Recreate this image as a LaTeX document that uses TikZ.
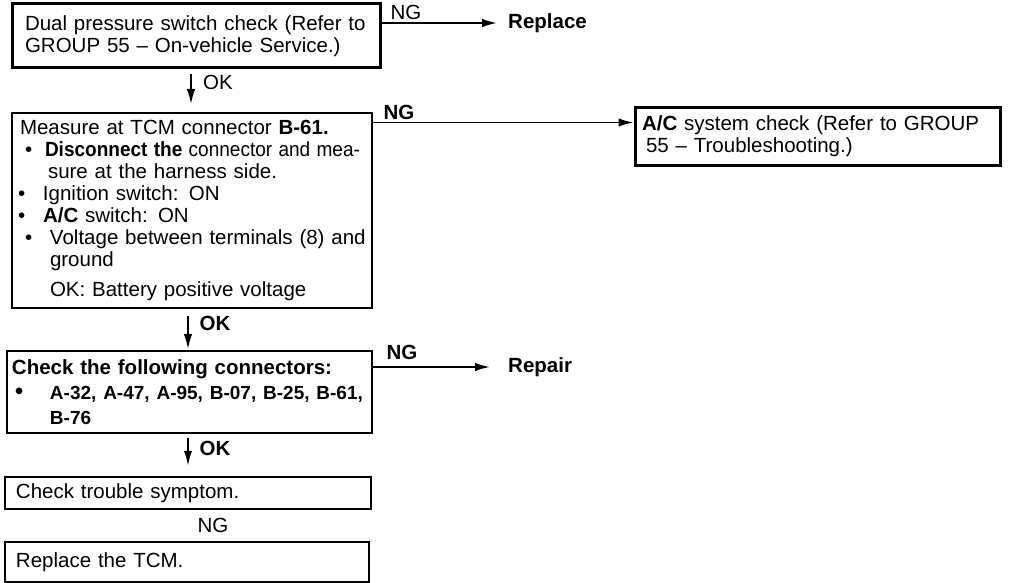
\documentclass[tikz,border=0pt]{standalone}
\usepackage{fontspec}
\setmainfont{Liberation Sans}
\usetikzlibrary{arrows.meta}

\begin{document}
\begin{tikzpicture}[x=1pt, y=-1pt,
            checkbox/.style={draw, line width=2pt, align=left, inner ysep=0pt, font=\fontsize{20.5}{22}\selectfont},
            flagnode/.style={inner sep=0pt, font=\fontsize{20.5}{22}\selectfont},
            resultnode/.style={inner sep=0pt, anchor=west, font=\fontsize{20.5}{22}\selectfont\bfseries},
            flowarrow/.style={line width=1.8pt, -{Latex[length=15pt, width=8.5pt]}}
        ]
            \useasboundingbox (0,0) rectangle (1009,583);

            % check boxes
            \node[checkbox, line width=3pt, minimum width=368pt, minimum height=64pt, text width=342pt, inner xsep=13pt] (dual) at (196,36)
                {\makebox[337pt][s]{Dual pressure switch check (Refer to}\\
                 \makebox[333pt][s]{GROUP 55 – On-vehicle Service.)}};
            \node[checkbox, minimum width=360pt, minimum height=195pt, text width=344pt, inner xsep=8pt] (measure) at (192,210.5)
                {\makebox[315pt][s]{Measure at TCM connector \textbf{B-61.}}\\
                 \hspace*{5pt}\makebox[20pt][l]{\textbullet}\resizebox{315pt}{\height}{\textbf{Disconnect the} connector and mea-}\\
                 \hspace*{28pt}sure at the harness side.\\
                 \makebox[23pt][l]{\hspace*{-2pt}\textbullet}Ignition switch: ON\\
                 \makebox[23pt][l]{\hspace*{-2pt}\textbullet}\textbf{A/C} switch: ON\\
                 \hspace*{5pt}\makebox[25pt][l]{\textbullet}\makebox[310pt][s]{Voltage between terminals (8) and}\\
                 \hspace*{30pt}ground\\[8pt]
                 \hspace*{30pt}\makebox[265pt][s]{OK: Battery positive voltage}};
            \node[checkbox, line width=3pt, minimum width=365pt, minimum height=57pt, text width=351pt, inner xsep=7pt] (acsys) at (817.5,136.5)
                {\makebox[346pt][s]{\textbf{A/C} system check (Refer to GROUP}\\
                 \hspace*{4pt}55 – Troubleshooting.)};
            \node[checkbox, minimum width=365pt, minimum height=82pt, text width=355pt, inner xsep=5pt, font=\fontsize{20.5}{25}\selectfont] (conn) at (189.5,392)
                {\textbf{Check the following connectors:}\\
                 \makebox[38pt][l]{\hspace*{3pt}\scalebox{1.2}{\textbullet}}\makebox[310pt][s]{\bfseries\fontsize{19}{25}\selectfont A-32, A-47, A-95, B-07, B-25, B-61,}\\
                 \hspace*{38pt}{\bfseries\fontsize{19}{25}\selectfont B-76}};
            \node[checkbox, line width=2.5pt, minimum width=366pt, minimum height=32pt, text width=344pt, inner xsep=11pt] (symptom) at (188,493)
                {Check trouble symptom.};
            \node[checkbox, minimum width=364pt, minimum height=40pt, text width=342pt, inner xsep=11pt] (tcm) at (187,562)
                {Replace the TCM.};

            % results
            \node[resultnode] (replace) at (508,23) {Replace};
            \node[resultnode] (repair) at (508,367) {Repair};

            % OK / NG flags
            \node[flagnode] (ng1) at (406,12) {NG};
            \node[flagnode] (ok1) at (218,82) {OK};
            \node[flagnode, font=\fontsize{20.5}{22}\selectfont\bfseries] (ng2) at (399,112) {NG};
            \node[flagnode, font=\fontsize{20.5}{22}\selectfont\bfseries] (ok2) at (215,323) {OK};
            \node[flagnode, font=\fontsize{20.5}{22}\selectfont\bfseries] (ng3) at (402,352) {NG};
            \node[flagnode, font=\fontsize{20.5}{22}\selectfont\bfseries] (ok3) at (215,448) {OK};
            \node[flagnode] (ng4) at (213,525) {NG};

            % arrows
            \draw[flowarrow, shorten >=11pt] (dual.east |- replace.west) -- (replace.west);
            \coordinate (acin) at ([yshift=-16pt]acsys.north west);
            \draw[flowarrow] (measure.east |- acin) -- (acin);
            \draw[flowarrow, shorten >=18pt] (conn.east |- repair.west) -- (repair.west);
            \draw[flowarrow, shorten <=5pt, shorten >=8pt] ([xshift=-5pt]dual.south) -- ([xshift=-5pt]dual.south |- measure.north);
            \draw[flowarrow, shorten <=7pt, shorten >=1pt] ([xshift=-4pt]measure.south) -- ([xshift=-4pt]measure.south |- conn.north);
            \draw[flowarrow, shorten <=4pt, shorten >=10pt] ([xshift=-1.5pt]conn.south) -- ([xshift=-1.5pt]conn.south |- symptom.north);

        \end{tikzpicture}
\end{document}
